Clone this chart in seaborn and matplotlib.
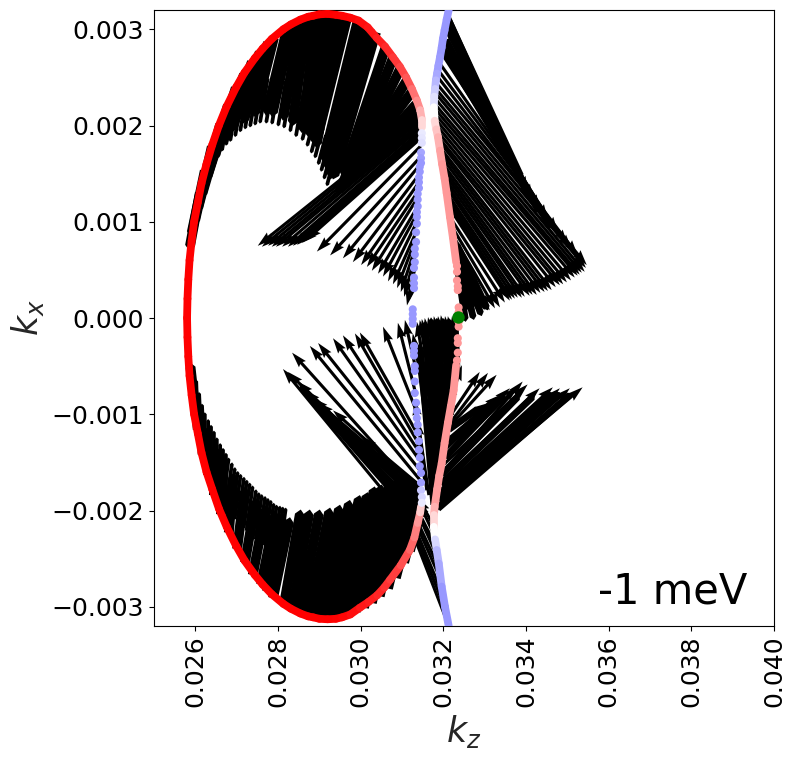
import matplotlib
matplotlib.use("Agg")
import matplotlib.pyplot as plt
import numpy as np
import seaborn as sns
from matplotlib.collections import LineCollection

MILLI = 1e-3

# ---------------------------------------------------
# Fermi contours
# ---------------------------------------------------

outer_top_kz = [25.80, 25.81, 25.83, 25.86, 25.91, 25.97, 26.06, 26.15, 26.27, 26.41, 26.57, 26.76, 26.99, 27.19, 27.44, 27.63, 27.85, 28.13, 28.31, 28.54, 28.73, 28.85, 29.00, 29.20, 29.40, 29.55, 29.75, 29.95, 30.17, 30.39, 30.59, 30.78, 30.95, 31.10, 31.24, 31.36, 31.44, 31.48, 31.48]
outer_top_kx = [0, 0.20, 0.40, 0.60, 0.80, 1.00, 1.20, 1.40, 1.60, 1.80, 2.00, 2.20, 2.40, 2.55, 2.70, 2.80, 2.90, 3.00, 3.05, 3.10, 3.13, 3.14, 3.155, 3.16, 3.15, 3.14, 3.12, 3.09, 3.02, 2.91, 2.82, 2.71, 2.61, 2.50, 2.38, 2.26, 2.16, 2.06, 1.98]
outer_top_spin = [1, 1, 1, 1, 1, 1, 1, 1, 1, 1, 1, 1, 1, 1, 1, 1, 1, 1, 1, 1, 1, 1, 1, 1, 0.99, 0.98, 0.97, 0.95, 0.92, 0.88, 0.83, 0.78, 0.72, 0.65, 0.55, 0.45, 0.30, 0.15, 0]

outer_low_kz = [25.80, 25.81, 25.83, 25.86, 25.91, 25.97, 26.06, 26.15, 26.27, 26.41, 26.57, 26.76, 26.99, 27.19, 27.44, 27.63, 27.85, 28.13, 28.31, 28.54, 28.73, 28.85, 29.00, 29.20, 29.40, 29.55, 29.75, 29.98, 30.19, 30.40, 30.57, 30.71, 30.97, 31.19, 31.30, 31.38, 31.44, 31.46]
outer_low_kx = [0, -0.20, -0.40, -0.60, -0.80, -1.00, -1.20, -1.40, -1.60, -1.78, -1.98, -2.17, -2.37, -2.52, -2.67, -2.77, -2.87, -2.97, -3.02, -3.07, -3.10, -3.11, -3.125, -3.13, -3.125, -3.11, -3.08, -3.01, -2.95, -2.88, -2.80, -2.72, -2.57, -2.41, -2.28, -2.13, -2.02, -1.96]
outer_low_spin = [1, 1, 1, 1, 1, 1, 1, 1, 1, 1, 1, 1, 1, 1, 1, 1, 1, 1, 1, 1, 1, 1, 1, 1, 0.99, 0.97, 0.94, 0.90, 0.88, 0.85, 0.80, 0.75, 0.68, 0.60, 0.50, 0.40, 0.20, 0]

right_top_kz = [32.13, 32.08, 32.03, 31.99, 31.96, 31.92, 31.88, 31.85, 31.82, 31.80, 31.78, 31.77, 31.79, 31.83, 31.87, 31.92, 31.97, 32.03, 32.08, 32.16, 32.23, 32.31]
right_top_kx = [3.20, 3.10, 2.99, 2.90, 2.81, 2.71, 2.62, 2.54, 2.47, 2.38, 2.30, 2.19, 2.05, 1.96, 1.88, 1.74, 1.60, 1.45, 1.30, 1.05, 0.84, 0.58]
right_top_spin = [-0.40, -0.40, -0.40, -0.40, -0.40, -0.39, -0.38, -0.34, -0.28, -0.20, -0.12, 0, 0.15, 0.23, 0.30, 0.36, 0.40, 0.40, 0.40, 0.40, 0.40, 0.40]

right_low_kz = [32.31, 32.25, 32.18, 32.11, 32.03, 31.96, 31.90, 31.85, 31.79, 31.77, 31.77, 31.80, 31.84, 31.89, 31.96, 32.04, 32.13]
right_low_kx = [-0.49, -0.75, -0.92, -1.09, -1.30, -1.51, -1.64, -1.78, -1.96, -2.05, -2.17, -2.30, -2.41, -2.55, -2.79, -3.00, -3.20]
right_low_spin = [0.40, 0.40, 0.40, 0.40, 0.40, 0.40, 0.39, 0.38, 0.30, 0.15, 0, -0.15, -0.28, -0.34, -0.40, -0.40, -0.40]

# isolated states on the inner (blue) and outer (pink) branches
blue_kz = [31.48, 31.48, 31.48, 31.46, 31.46, 31.46, 31.43, 31.43, 31.41, 31.41, 31.41, 31.38, 31.38, 31.38, 31.36, 31.36, 31.36, 31.34, 31.34, 31.31, 31.31, 31.31, 31.29, 31.29, 31.29, 31.29,
           31.26, 31.26, 31.26, 31.26,
           31.29, 31.29, 31.29, 31.31, 31.31, 31.31, 31.31, 31.34, 31.36, 31.36, 31.38, 31.38, 31.41, 31.41, 31.43, 31.43, 31.46, 31.46, 31.46, 31.48, 31.48]
blue_kx = [1.92, 1.87, 1.82, 1.72, 1.66, 1.61, 1.57, 1.52, 1.46, 1.41, 1.35, 1.29, 1.23, 1.16, 1.10, 1.05, 0.98, 0.89, 0.79, 0.72, 0.66, 0.58, 0.52, 0.42, 0.36, 0.31,
           0.09, 0.04, -0.01, -0.06,
           -0.29, -0.34, -0.39, -0.50, -0.55, -0.66, -0.78, -0.88, -0.97, -1.04, -1.11, -1.19, -1.28, -1.37, -1.45, -1.54, -1.61, -1.71, -1.79, -1.86, -1.92]
blue_spin = [-0.08, -0.10, -0.12, -0.35, -0.38, -0.40, -0.40, -0.40, -0.40, -0.40, -0.40, -0.40, -0.40, -0.40, -0.40, -0.40, -0.40, -0.40, -0.40, -0.40, -0.40, -0.40, -0.40, -0.40, -0.40, -0.40,
             -0.40, -0.40, -0.40, -0.40,
             -0.40, -0.40, -0.40, -0.40, -0.40, -0.40, -0.40, -0.40, -0.40, -0.40, -0.40, -0.40, -0.40, -0.40, -0.40, -0.40, -0.40, -0.38, -0.22, -0.15, -0.08]

pink_kz = [32.33, 32.33, 32.33, 32.35, 32.35, 32.37, 32.37, 32.37, 32.37, 32.35, 32.35, 32.35, 32.33]
pink_kx = [0.54, 0.48, 0.39, 0.33, 0.29, 0.11, 0.06, -0.04, -0.09, -0.21, -0.26, -0.36, -0.44]
pink_spin = [0.40] * 13

green_kz = [32.35]
green_kx = [0.01]

# ---------------------------------------------------
# Arrows: start (kz0, kx0) and tip (kz1, kx1)
# ---------------------------------------------------

band_top_kz0 = [26.11, 26.23, 26.40, 26.60, 26.79, 26.98, 27.18, 27.37, 27.56, 27.76, 27.90, 28.22, 28.34, 28.53, 28.72, 28.92, 29.11, 29.30, 29.50, 29.67, 29.93, 30.08, 30.22, 30.37, 30.61, 30.80, 30.97, 31.12, 31.24, 31.34, 31.41]
band_top_kx0 = [1.30, 1.53, 1.78, 2.01, 2.21, 2.39, 2.53, 2.66, 2.76, 2.86, 2.91, 3.01, 3.05, 3.09, 3.13, 3.15, 3.16, 3.16, 3.15, 3.12, 3.09, 3.05, 3.01, 2.97, 2.82, 2.72, 2.60, 2.47, 2.35, 2.22, 2.12]
band_top_kz1 = [25.85, 25.89, 25.97, 26.04, 26.14, 26.26, 26.43, 26.64, 26.86, 27.15, 27.42, 27.71, 27.85, 28.12, 28.34, 28.58, 28.75, 28.87, 28.92, 28.92, 29.09, 29.18, 29.26, 29.33, 29.55, 29.55, 29.50, 29.45, 29.40, 29.40, 29.40]
band_top_kx1 = [0.70, 0.84, 0.97, 1.10, 1.25, 1.43, 1.64, 1.80, 1.93, 2.02, 2.09, 2.10, 2.09, 2.05, 1.99, 1.92, 1.87, 1.80, 1.77, 1.82, 1.62, 1.53, 1.44, 1.44, 1.47, 1.38, 1.33, 1.31, 1.31, 1.30, 1.30]

band_low_kz0 = [25.97, 26.06, 26.18, 26.31, 26.45, 26.62, 26.81, 27.01, 27.20, 27.39, 27.59, 27.73, 27.88, 28.14, 28.34, 28.53, 28.72, 28.92, 29.11, 29.30, 29.50, 29.69, 29.88, 30.08, 30.27, 30.46, 30.66, 30.85, 31.05, 31.19]
band_low_kx0 = [-0.85, -1.16, -1.42, -1.63, -1.84, -2.04, -2.23, -2.40, -2.54, -2.67, -2.77, -2.84, -2.91, -2.99, -3.05, -3.08, -3.12, -3.13, -3.13, -3.13, -3.10, -3.08, -3.05, -3.01, -2.96, -2.89, -2.81, -2.70, -2.54, -2.42]
band_low_kz1 = [25.87, 25.99, 26.11, 26.28, 26.47, 26.69, 26.93, 27.20, 27.47, 27.71, 27.95, 28.12, 28.29, 28.55, 28.77, 29.01, 29.26, 29.50, 29.74, 29.98, 30.17, 30.34, 30.51, 30.71, 30.90, 31.09, 31.24, 31.34, 31.38, 31.43]
band_low_kx1 = [-0.46, -0.78, -0.95, -1.14, -1.32, -1.45, -1.61, -1.76, -1.87, -1.95, -2.01, -2.04, -2.07, -1.99, -1.99, -1.99, -1.97, -1.94, -1.89, -1.84, -1.81, -1.75, -1.73, -1.68, -1.66, -1.68, -1.79, -1.89, -1.99, -2.05]

# short bars whose ends follow the inner edge of the black bands
edge_top_kz0 = [26.14, 26.21, 26.29, 26.36, 26.43, 26.50, 26.58, 26.65, 26.72, 26.74, 26.83, 26.93, 27.03, 27.15, 27.27, 27.39, 27.51, 27.63, 27.75, 27.90, 28.04, 28.19, 28.33, 28.48, 28.62, 28.77, 28.89, 28.99, 29.08, 29.16, 29.23, 29.30, 29.37]
edge_top_kx0 = [1.18, 1.32, 1.45, 1.56, 1.68, 1.80, 1.89, 1.99, 2.06, 2.14, 2.20, 2.26, 2.30, 2.35, 2.40, 2.43, 2.45, 2.47, 2.49, 2.49, 2.48, 2.46, 2.44, 2.40, 2.35, 2.15, 2.09, 2.02, 1.97, 1.90, 1.83, 1.75, 1.68]
edge_top_kz1 = [25.87, 25.94, 26.02, 26.09, 26.16, 26.23, 26.31, 26.38, 26.45, 26.55, 26.64, 26.74, 26.84, 26.96, 27.08, 27.20, 27.32, 27.44, 27.56, 27.71, 27.85, 28.00, 28.14, 28.29, 28.43, 28.58, 28.70, 28.80, 28.89, 28.97, 29.04, 29.11, 29.18]
edge_top_kx1 = [0.71, 0.85, 0.98, 1.09, 1.21, 1.33, 1.42, 1.52, 1.59, 1.67, 1.73, 1.79, 1.83, 1.88, 1.93, 1.96, 1.98, 2.00, 2.02, 2.02, 2.01, 1.99, 1.97, 1.93, 1.88, 1.84, 1.78, 1.71, 1.66, 1.59, 1.52, 1.44, 1.37]

edge_low_kz0 = [25.99, 26.06, 26.14, 26.21, 26.23, 26.31, 26.38, 26.45, 26.52, 26.60, 26.67, 26.74, 26.66, 26.74, 26.81, 26.88, 26.95, 27.03, 27.10, 27.17, 27.24, 27.32, 27.39, 27.46, 27.54, 27.61, 27.68, 27.75, 27.82, 27.90, 27.97, 28.04]
edge_low_kx0 = [-0.96, -1.11, -1.24, -1.36, -1.45, -1.52, -1.58, -1.64, -1.71, -1.77, -1.82, -1.87, -1.92, -1.97, -2.02, -2.06, -2.09, -2.12, -2.15, -2.18, -2.21, -2.25, -2.28, -2.30, -2.32, -2.34, -2.36, -2.39, -2.41, -2.42, -2.43, -2.44]
edge_low_kz1 = [25.94, 26.02, 26.09, 26.16, 26.23, 26.31, 26.38, 26.45, 26.52, 26.60, 26.67, 26.74, 26.81, 26.89, 26.96, 27.03, 27.10, 27.18, 27.25, 27.32, 27.39, 27.47, 27.54, 27.61, 27.69, 27.76, 27.83, 27.90, 27.97, 28.05, 28.12, 28.19]
edge_low_kx1 = [-0.52, -0.64, -0.77, -0.89, -0.98, -1.05, -1.11, -1.17, -1.24, -1.30, -1.35, -1.40, -1.45, -1.50, -1.55, -1.59, -1.62, -1.65, -1.68, -1.71, -1.74, -1.78, -1.81, -1.83, -1.85, -1.87, -1.89, -1.92, -1.94, -1.95, -1.96, -1.97]

# thicker fill where the original arrows overlap solid
fill_kz0 = [32.13, 32.11, 32.06, 32.01, 32.35, 32.38, 32.35, 32.33, 31.77, 31.87, 31.99, 32.08, 32.18, 32.25, 32.33, 31.38, 31.38, 31.43, 31.92, 31.94, 31.96, 32.04, 32.08, 32.13, 31.87, 31.89, 31.92]
fill_kx0 = [3.09, 3.04, 2.89, 2.78, 0.50, 0.58, 0.65, 0.76, -1.94, -1.79, -1.53, -1.27, -1.01, -0.80, -0.54, -2.10, -1.99, -1.89, -1.84, -1.73, -1.63, -1.45, -1.32, -1.16, -1.98, -1.89, -1.86]
fill_kz1 = [33.90, 34.04, 34.33, 34.62, 32.54, 32.74, 32.93, 33.08, 31.43, 31.55, 31.70, 31.84, 31.99, 32.13, 32.28, 28.53, 28.89, 29.38, 34.45, 34.21, 33.85, 33.49, 33.25, 32.88, 35.11, 34.82, 34.62]
fill_kx1 = [1.45, 1.28, 1.09, 0.93, -0.04, -0.02, 0.02, 0.08, -0.28, -0.04, 0, 0, 0, 0, 0, -0.70, -0.90, -1.06, -0.85, -0.80, -0.80, -0.80, -0.85, -0.93, -0.78, -0.77, -0.77]

# single arrows, default quiver style
wedge_kz0 = [31.38, 31.38, 31.41, 31.41, 31.43, 31.43, 31.46, 31.46, 31.46, 31.46, 31.46]
wedge_kx0 = [2.08, 2.06, 2.04, 2.01, 1.99, 1.97, 1.95, 1.93, 1.91, 1.89, 1.87]
wedge_kz1 = [27.51, 27.61, 27.76, 27.85, 27.95, 28.10, 28.24, 28.36, 28.46, 28.58, 28.68]
wedge_kx1 = [0.75, 0.74, 0.75, 0.74, 0.74, 0.74, 0.74, 0.75, 0.76, 0.78, 0.81]

dot_top_kz0 = [31.46, 31.46, 31.43, 31.43, 31.41, 31.41, 31.38, 31.38, 31.36, 31.36, 31.36, 31.34, 31.34, 31.31, 31.31, 31.29]
dot_top_kx0 = [1.79, 1.68, 1.59, 1.50, 1.41, 1.33, 1.25, 1.16, 1.08, 1.00, 0.91, 0.83, 0.75, 0.64, 0.52, 0.50]
dot_top_kz1 = [28.94, 29.26, 29.57, 29.81, 30.01, 30.15, 30.27, 30.42, 30.54, 30.66, 30.78, 30.88, 30.97, 31.05, 31.12, 31.19]
dot_top_kx1 = [0.69, 0.65, 0.62, 0.58, 0.55, 0.53, 0.49, 0.46, 0.43, 0.38, 0.35, 0.31, 0.27, 0.22, 0.13, 0.19]

fan_right_kz0 = [32.11, 32.08, 32.06, 32.01, 31.99, 31.94, 31.92, 31.87, 31.84, 31.82, 31.82, 31.84, 31.84, 31.87, 31.92, 31.94, 31.99, 32.04, 32.06, 32.11, 32.13, 32.18, 32.23, 32.25, 32.28, 32.33, 32.33, 32.35]
fan_right_kx0 = [3.16, 3.07, 2.99, 2.83, 2.73, 2.63, 2.55, 2.42, 2.32, 2.21, 2.11, 2.00, 1.90, 1.80, 1.69, 1.59, 1.48, 1.38, 1.28, 1.17, 1.07, 0.97, 0.86, 0.76, 0.65, 0.55, 0.45, 0.34]
fan_right_kz1 = [34.04, 34.16, 34.33, 34.53, 34.77, 35.01, 35.25, 35.47, 35.42, 35.30, 35.18, 34.99, 34.82, 34.62, 34.45, 34.26, 34.09, 33.90, 33.73, 33.61, 33.49, 33.37, 33.25, 33.12, 33.00, 32.88, 32.76, 32.64]
fan_right_kx1 = [1.31, 1.23, 1.12, 1.02, 0.89, 0.76, 0.65, 0.55, 0.48, 0.45, 0.42, 0.37, 0.34, 0.29, 0.27, 0.24, 0.23, 0.21, 0.20, 0.18, 0.16, 0.11, 0.10, 0.08, 0.08, 0.06, 0.08, 0.06]

fan_extra_kz0 = [31.89, 31.84, 31.82, 31.82, 31.82, 31.84, 31.87, 31.89, 31.92, 31.96, 32.01, 32.04, 32.08]
fan_extra_kx0 = [2.49, 2.37, 2.27, 2.16, 2.06, 1.95, 1.85, 1.75, 1.64, 1.54, 1.43, 1.33, 1.23]
fan_extra_kz1 = [35.11, 35.45, 35.35, 35.25, 35.09, 34.90, 34.72, 34.53, 34.35, 34.16, 33.97, 33.80, 33.66]
fan_extra_kx1 = [0.71, 0.52, 0.47, 0.44, 0.39, 0.35, 0.32, 0.28, 0.26, 0.24, 0.22, 0.21, 0.19]

mass_kz0 = [32.33, 32.30, 32.28, 32.23, 32.21, 32.18, 32.13, 32.11, 32.06, 32.04, 31.99, 31.94, 31.92, 31.82, 31.77, 31.84, 31.92, 31.65, 31.60, 31.55]
mass_kx0 = [-0.38, -0.49, -0.59, -0.80, -0.90, -0.99, -1.07, -1.16, -1.27, -1.37, -1.47, -1.58, -1.68, -1.94, -1.89, -1.68, -1.58, -1.84, -1.79, -1.68]
mass_kz1 = [32.21, 32.11, 32.04, 31.94, 31.87, 31.77, 31.70, 31.63, 31.55, 31.48, 31.43, 31.36, 31.26, 31.34, 31.43, 31.53, 31.63, 31.31, 31.38, 31.36]
mass_kx1 = [0.02, 0.02, 0.02, 0.03, 0.02, 0.02, 0.01, 0.01, 0, -0.01, -0.02, -0.04, -0.16, -0.28, -0.23, -0.12, -0.18, -0.85, -1.06, -1.27]

dot_low_kz0 = [31.46, 31.43, 31.43, 31.41, 31.41, 31.38, 31.38, 31.36, 31.34, 31.34]
dot_low_kx0 = [-1.85, -1.68, -1.58, -1.47, -1.39, -1.29, -1.21, -0.98, -0.80, -0.54]
dot_low_kz1 = [28.34, 28.77, 28.97, 29.33, 29.57, 29.86, 29.98, 30.54, 30.90, 31.07]
dot_low_kx1 = [-0.36, -0.29, -0.26, -0.21, -0.18, -0.16, -0.15, -0.09, -0.05, -0.02]

wedge_low_kz0 = [31.38, 31.46, 31.46, 31.43, 31.43, 31.43, 31.43, 31.43]
wedge_low_kx0 = [-2.23, -1.95, -1.91, -1.87, -1.83, -1.79, -1.77, -1.74]
wedge_low_kz1 = [28.12, 28.24, 28.48, 28.65, 28.84, 28.97, 29.33, 30.01]
wedge_low_kx1 = [-0.53, -0.56, -0.66, -0.75, -0.83, -0.88, -0.96, -1.23]

low_right_kz0 = [31.84, 31.87, 31.89, 31.92, 31.94, 31.96, 31.99, 32.01, 32.04, 32.08, 32.11, 32.25, 32.18, 32.13, 32.08]
low_right_kx0 = [-1.99, -1.94, -1.89, -1.79, -1.70, -1.61, -1.53, -1.45, -1.37, -1.27, -1.16, -0.75, -1.01, -1.11, -1.16]
low_right_kz1 = [35.37, 35.06, 34.82, 34.65, 34.33, 33.92, 34.04, 33.80, 33.61, 33.37, 33.12, 32.45, 32.88, 33.08, 33.29]
low_right_kx1 = [-0.72, -0.73, -0.73, -0.72, -0.73, -0.66, -0.69, -0.71, -0.73, -0.80, -0.88, -0.49, -0.56, -0.57, -0.59]

cross_kz0 = [32.06, 32.01, 31.99, 31.94, 31.92, 31.89, 31.87, 31.84, 31.82]
cross_kx0 = [-3.12, -2.98, -2.88, -2.72, -2.62, -2.51, -2.41, -2.31, -2.20]
cross_kz1 = [31.14, 31.14, 31.19, 31.19, 31.24, 31.29, 31.31, 31.38, 31.38]
cross_kx1 = [-2.10, -2.05, -2.05, -1.99, -1.99, -1.94, -1.94, -1.89, -1.86]

thin_groups = [
    (wedge_kz0, wedge_kx0, wedge_kz1, wedge_kx1),
    (dot_top_kz0, dot_top_kx0, dot_top_kz1, dot_top_kx1),
    (fan_right_kz0, fan_right_kx0, fan_right_kz1, fan_right_kx1),
    (fan_extra_kz0, fan_extra_kx0, fan_extra_kz1, fan_extra_kx1),
    (mass_kz0, mass_kx0, mass_kz1, mass_kx1),
    (dot_low_kz0, dot_low_kx0, dot_low_kz1, dot_low_kx1),
    (wedge_low_kz0, wedge_low_kx0, wedge_low_kz1, wedge_low_kx1),
    (low_right_kz0, low_right_kx0, low_right_kz1, low_right_kx1),
    (cross_kz0, cross_kx0, cross_kz1, cross_kx1),
]

kz_ticks = [0.026, 0.028, 0.030, 0.032, 0.034, 0.036, 0.038, 0.040]
kx_ticks = [-0.003, -0.002, -0.001, 0.000, 0.001, 0.002, 0.003]

# ---------------------------------------------------
# Helpers
# ---------------------------------------------------

def draw_arrows(ax, kz0, kx0, kz1, kx1, **style):
    x0 = np.array(kz0) * MILLI
    y0 = np.array(kx0) * MILLI
    ax.quiver(
        x0, y0,
        np.array(kz1) * MILLI - x0, np.array(kx1) * MILLI - y0,
        angles="xy", scale_units="xy", scale=1,
        units="width", color="black", zorder=2, **style
    )


def draw_contour(ax, kz, kx, spin):
    pts = np.column_stack([np.array(kz) * MILLI, np.array(kx) * MILLI])
    segs = np.stack([pts[:-1], pts[1:]], axis=1)
    lc = LineCollection(segs, cmap="bwr", norm=plt.Normalize(-1, 1), linewidths=5.6, capstyle="round", zorder=3)
    lc.set_array(np.array(spin[:-1]))
    ax.add_collection(lc)


# ---------------------------------------------------
# Figure
# ---------------------------------------------------

sns.set_theme(style="ticks", rc={
    "xtick.major.size": 3.5, "ytick.major.size": 3.5,
    "xtick.major.width": 0.8, "ytick.major.width": 0.8,
    "axes.linewidth": 0.8, "axes.edgecolor": "black",
    "xtick.color": "black", "ytick.color": "black", "text.color": "black",
})
plt.rcParams["font.family"] = ["DejaVu Sans"]
plt.rcParams["mathtext.fontset"] = "dejavusans"

fig = plt.figure(figsize=(7.95, 7.58), dpi=100)
ax = fig.add_axes([154 / 795, 132 / 758, 620 / 795, 616 / 758])

# flat-ended bars so the dense regions stay solid
wide = dict(headwidth=1.0, headlength=0.5, headaxislength=0.5)
draw_arrows(ax, band_top_kz0, band_top_kx0, band_top_kz1, band_top_kx1, width=0.016, **wide)
draw_arrows(ax, band_low_kz0, band_low_kx0, band_low_kz1, band_low_kx1, width=0.016, **wide)
draw_arrows(ax, edge_top_kz0, edge_top_kx0, edge_top_kz1, edge_top_kx1, width=0.006, **wide)
draw_arrows(ax, edge_low_kz0, edge_low_kx0, edge_low_kz1, edge_low_kx1, width=0.006, **wide)
draw_arrows(ax, fill_kz0, fill_kx0, fill_kz1, fill_kx1, width=0.011, **wide)
for group in thin_groups:
    draw_arrows(ax, *group, width=0.005)

draw_contour(ax, outer_top_kz, outer_top_kx, outer_top_spin)
draw_contour(ax, outer_low_kz, outer_low_kx, outer_low_spin)
draw_contour(ax, right_top_kz, right_top_kx, right_top_spin)
draw_contour(ax, right_low_kz, right_low_kx, right_low_spin)

for kz, kx, spin in [(blue_kz, blue_kx, blue_spin), (pink_kz, pink_kx, pink_spin)]:
    sns.scatterplot(
        x=np.array(kz) * MILLI, y=np.array(kx) * MILLI,
        hue=spin, hue_norm=(-1, 1), palette="bwr",
        s=34, linewidth=0, legend=False, zorder=4, ax=ax
    )

sns.scatterplot(
    x=np.array(green_kz) * MILLI, y=np.array(green_kx) * MILLI,
    color="green", s=80, linewidth=0, legend=False, zorder=5, ax=ax
)

ax.set_xlim(0.025, 0.040)
ax.set_ylim(-0.0032, 0.0032)
ax.set_xticks(kz_ticks)
ax.set_yticks(kx_ticks)
ax.set_xticklabels([f"{t:.3f}" for t in kz_ticks], rotation=90, fontsize=18)
ax.set_yticklabels([f"{t:.3f}".replace("-", "\u2212") for t in kx_ticks], fontsize=18)
ax.set_xlabel(r"$k_z$", fontsize=25, labelpad=4)
ax.set_ylabel(r"$k_x$", fontsize=25, labelpad=4)
ax.text(0.03574, -0.00297, "-1 meV", fontsize=30, ha="left", va="baseline", zorder=6)

fig.savefig("out.png", dpi=100)
plt.close(fig)
